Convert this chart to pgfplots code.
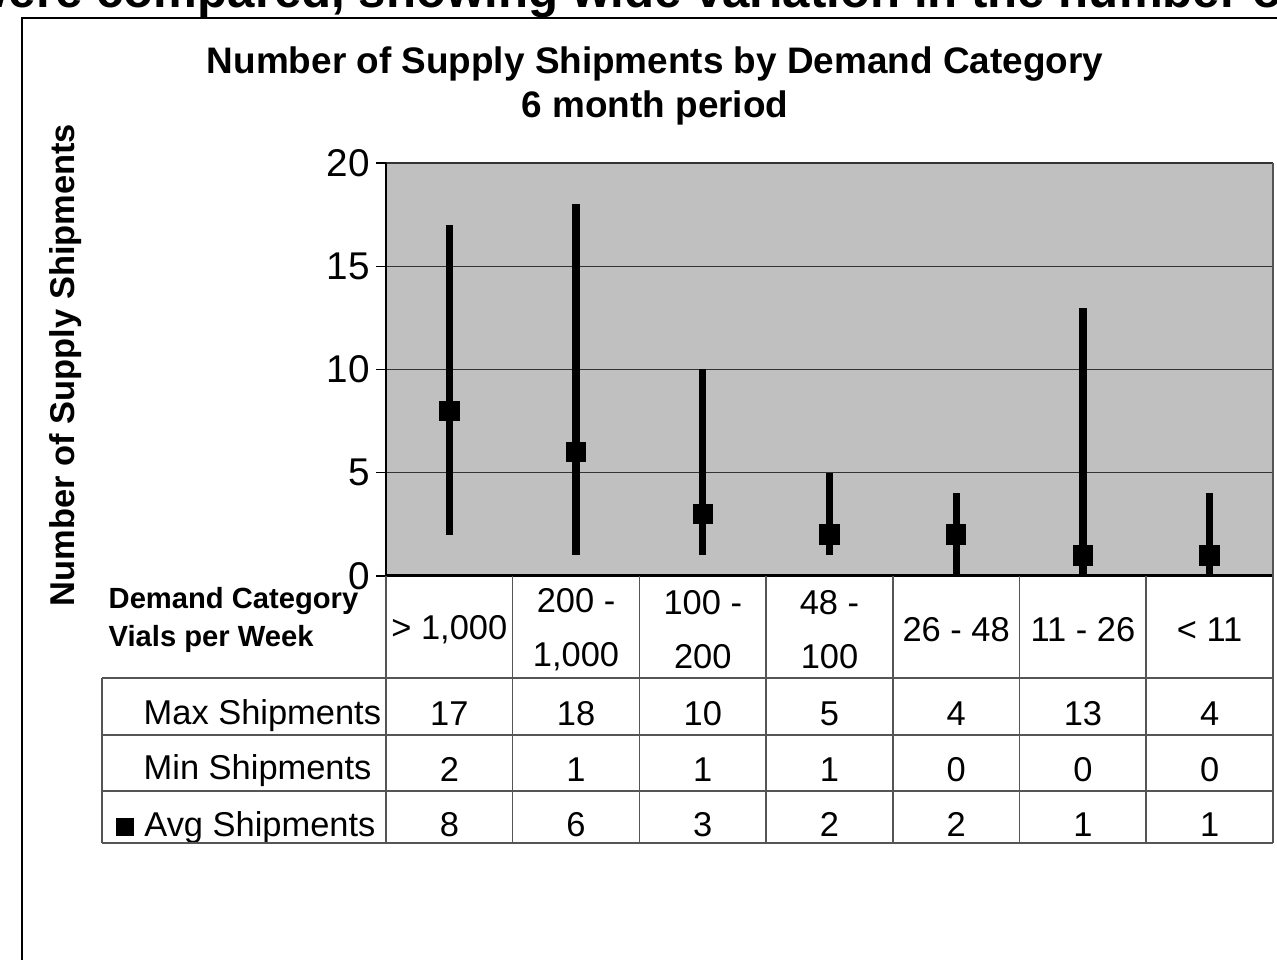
\documentclass[border=0pt]{standalone}
\usepackage{fontspec}
\setmainfont{Liberation Sans}
\usepackage{pgfplots}
\pgfplotsset{compat=1.18}
\usepackage{pgfplotstable}

\definecolor{plotbg}{RGB}{192,192,192}
\definecolor{tabline}{RGB}{85,85,85}

% shipments per demand category (6 month period)
\pgfplotstableread{
x max min avg
0 17  2  8
1 18  1  6
2 10  1  3
3  5  1  2
4  4  0  2
5 13  0  1
6  4  0  1
}\shipments

\newcommand\tabfont{\fontsize{9.8}{15.2}\selectfont}

\begin{document}
\begin{tikzpicture}
% reference pixel grid: x right, y down, 1px = 0.1mm
\begin{scope}[x=0.1mm, y=-0.1mm, shift={(0mm,96mm)}]
  \useasboundingbox (0,0) rectangle (1277,960);
  % clipped line of running text above the figure frame
  \node[anchor=base west, inner sep=0pt, font=\bfseries\fontsize{14}{14}\selectfont]
    at (-30,8) {were compared, showing wide variation in the number of};
  \draw[line width=0.25mm] (22,1000) -- (22,18) -- (1300,18);
  % titles
  \node[anchor=base, font=\bfseries\fontsize{10.5}{12}\selectfont] at (655,74)
    {Number of Supply Shipments by Demand Category};
  \node[anchor=base, font=\bfseries\fontsize{10.5}{12}\selectfont] at (655,118)
    {6 month period};
  \node[anchor=base, rotate=90, font=\bfseries\fontsize{9.8}{12}\selectfont] at (75,365)
    {Number of Supply Shipments};
  % data table header and row labels
  \node[anchor=base west, inner sep=0pt, font=\bfseries\fontsize{8.3}{10}\selectfont] at (108,609) {Demand Category};
  \node[anchor=base west, inner sep=0pt, font=\bfseries\fontsize{8.3}{10}\selectfont] at (108,647) {Vials per Week};
  \node[anchor=base west, inner sep=0pt, font=\tabfont] at (143,725) {Max Shipments};
  \node[anchor=base west, inner sep=0pt, font=\tabfont] at (143,780) {Min Shipments};
\end{scope}

\begin{axis}[
  at={(38.6mm,38.4mm)}, anchor=south west,
  scale only axis, width=88.7mm, height=41.3mm,
  xmin=-0.5, xmax=6.5, ymin=0, ymax=20,
  clip=false,
  axis background/.style={fill=plotbg},
  axis x line*=bottom, axis y line*=left,
  x axis line style={black, line width=0.3mm},
  y axis line style={black, line width=0.15mm},
  ytick={0,5,10,15,20},
  ymajorgrids, major grid style={black!80, line width=0.12mm},
  tick align=outside, major tick length=1mm,
  y tick style={black, line width=0.12mm},
  xtick={0,...,6}, x tick style={draw=none},
  xticklabels={{> 1,000}, {200 -\\1,000}, {100 -\\200}, {48 -\\100}, {26 - 48}, {11 - 26}, {< 11}},
  xticklabel style={anchor=center, align=center, font=\tabfont, yshift=-4.35mm},
  yticklabel style={font=\fontsize{11}{12}\selectfont, xshift=0.6mm},
  /pgf/number format/assume math mode=true,
  legend style={at={(-0.3044,-0.6077)}, anchor=west, draw=none, fill=none,
    inner sep=0pt, outer sep=0pt, font=\tabfont, nodes={inner sep=0pt},
    /tikz/column sep=1.0mm},
]
% avg marker with min-max range
\addplot[black, only marks, mark=square*, mark size=0.95mm,
  legend image code/.code={\fill[black] (0mm,-0.85mm) rectangle (1.7mm,0.85mm);},
  error bars/.cd, y dir=both, y explicit,
  error bar style={line width=2.07pt, black}, error mark=none]
  table[x=x, y=avg,
    y error plus expr=\thisrow{max}-\thisrow{avg},
    y error minus expr=\thisrow{avg}-\thisrow{min}] {\shipments};
\addlegendentry{Avg Shipments}

% values of the data table
\addplot[forget plot, draw=none, mark=none, nodes near coords, point meta=explicit,
  every node near coord/.append style={anchor=base, font=\tabfont, inner sep=0pt, black}]
  table[x=x, y expr=-7.22, meta=max] {\shipments};
\addplot[forget plot, draw=none, mark=none, nodes near coords, point meta=explicit,
  every node near coord/.append style={anchor=base, font=\tabfont, inner sep=0pt, black}]
  table[x=x, y expr=-9.93, meta=min] {\shipments};
\addplot[forget plot, draw=none, mark=none, nodes near coords, point meta=explicit,
  every node near coord/.append style={anchor=base, font=\tabfont, inner sep=0pt, black}]
  table[x=x, y expr=-12.62, meta=avg] {\shipments};
\end{axis}

% table rules
\begin{scope}[x=0.1mm, y=-0.1mm, shift={(0mm,96mm)}, draw=tabline, line width=0.15mm]
  \foreach \c in {1,...,6} \draw (386+126.7*\c,576) -- (386+126.7*\c,843);
  \draw (386,576) -- (386,843);
  \draw (1273,163) -- (1273,843);
  \draw (102,678) -- (102,843);
  \foreach \r in {678,735,791,843} \draw (102,\r) -- (1273,\r);
\end{scope}
\end{tikzpicture}
\end{document}
